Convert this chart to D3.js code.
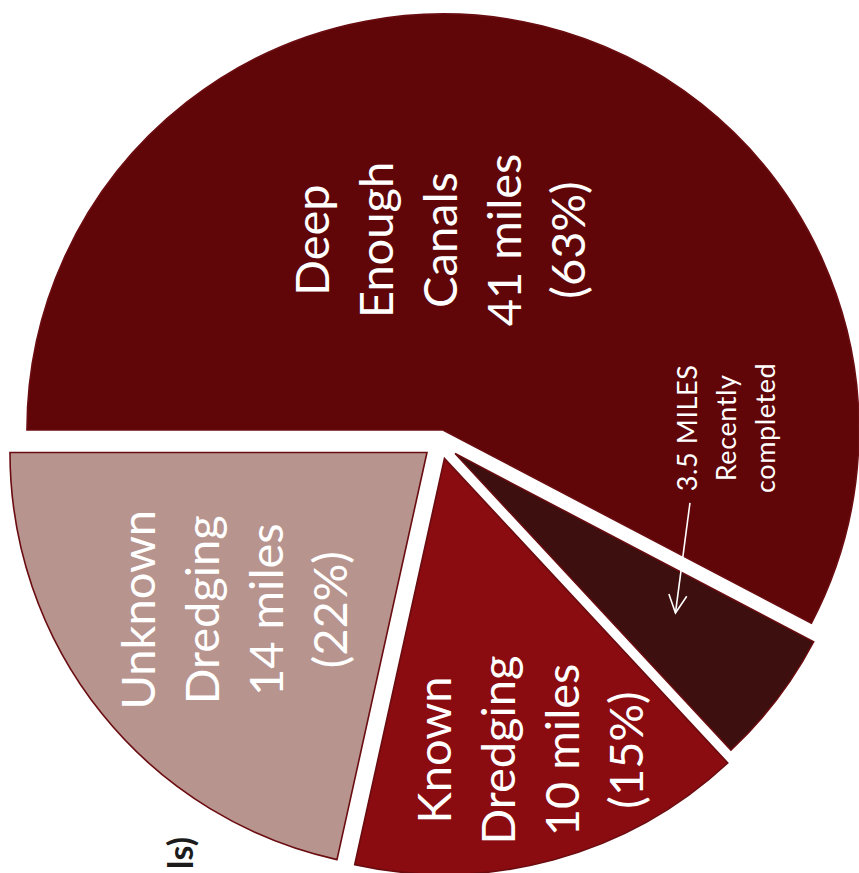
<!DOCTYPE html>
<html>
<head>
<meta charset="utf-8">
<script src="https://cdn.jsdelivr.net/npm/d3@7"></script>
<style>
    body { margin: 0; background: #fff; }
    svg { display: block; }
    .slice-label { font-family: Lato, "Open Sans", sans-serif; fill: #fff; }
    .title-part { font-family: Lato, "Liberation Sans", sans-serif; font-weight: bold; fill: #1b1b1b; }
</style>
</head>
<body>
<div id="chart"></div>
<script>
var WIDTH = 859, HEIGHT = 873;
var CENTER = {x: 440, y: 442};

// data (miles of canals)
var categories = ['Deep Enough Canals', 'Recently completed', 'Known Dredging', 'Unknown Dredging'];
var miles = [37.5, 3.5, 10, 14];
var label_lines = [
    ['Deep', 'Enough', 'Canals', '41 miles', '(63%)'],
    [],
    ['Known', 'Dredging', '10 miles', '(15%)'],
    ['Unknown', 'Dredging', '14 miles', '(22%)']
];
var note_lines = ['3.5 MILES', 'Recently', 'completed'];
var title_fragment = 'ls)';

// styles / layout
var COLORS = ['#600609', '#3d0f0f', '#8a0b10', '#b8948f'];
var EXPLODE = [12.4, 19, 17, 16.7];
var SLICE_RADIUS = [416, 405, 416, 417];
var LABEL_POS = [{da: -14.8, r: 190}, null, {da: -1.2, r: 304}, {da: -0.4, r: 249}];
var NOTE_POS = {da: -42.8, r: 272};
var ARROW_FROM = {da: -25.5, r: 240}, ARROW_TO = {da: -1.5, r: 272};

var svg = d3.select('#chart').append('svg')
    .attr('width', WIDTH)
    .attr('height', HEIGHT);

svg.append('defs').append('marker')
    .attr('id', 'head')
    .attr('markerUnits', 'userSpaceOnUse')
    .attr('viewBox', '-20 -11 22 22')
    .attr('refX', 0).attr('refY', 0)
    .attr('markerWidth', 22).attr('markerHeight', 22)
    .attr('orient', 'auto')
  .append('path')
    .attr('d', 'M-18,-9L0,0L-18,9')
    .attr('fill', 'none')
    .attr('stroke', '#fff')
    .attr('stroke-width', 1.6);

var pie = d3.pie()
    .sort(null)
    .startAngle(-Math.PI / 2)
    .endAngle(3 * Math.PI / 2);

var arcs = pie(miles);
arcs.forEach(function(d, i) { d.index = i; });

var arc = d3.arc()
    .innerRadius(0)
    .outerRadius(function(d) { return SLICE_RADIUS[d.index]; });

function mid_angle(d) { return (d.startAngle + d.endAngle) / 2; }

function polar(a, r) {
    return [r * Math.sin(a), -r * Math.cos(a)];
}

// apex of an exploded slice
function apex(d) {
    var o = polar(mid_angle(d), EXPLODE[d.index]);
    return [CENTER.x + o[0], CENTER.y + o[1]];
}

function place(d, pos) {
    var c = apex(d);
    var p = polar(mid_angle(d) + pos.da * Math.PI / 180, pos.r);
    return [c[0] + p[0], c[1] + p[1]];
}

var draw_area = svg.append('g').attr('id', 'pie');

draw_area.selectAll('.slice')
    .data(arcs)
    .enter()
  .append('path')
    .attr('class', 'slice')
    .attr('transform', function(d) {
        var c = apex(d);
        return 'translate(' + c[0] + ',' + c[1] + ')';
    })
    .attr('d', arc)
    .attr('fill', function(d) { return COLORS[d.index]; })
    .attr('stroke', '#6a0c10')
    .attr('stroke-width', 1.6)
    .attr('stroke-linejoin', 'miter');

function draw_lines(x, y, lines, size, lh, cls) {
    var t = svg.append('text')
        .attr('class', cls)
        .attr('transform', 'translate(' + x + ',' + y + ') rotate(-90)')
        .attr('text-anchor', 'middle')
        .style('font-size', size + 'px');
    lines.forEach(function(s, i) {
        t.append('tspan')
            .attr('x', 0)
            .attr('y', (i - (lines.length - 1) / 2) * lh + size * 0.36)
            .text(s);
    });
    return t;
}

arcs.forEach(function(d) {
    var pos = LABEL_POS[d.index];
    if (!pos) return;
    var p = place(d, pos);
    draw_lines(p[0], p[1], label_lines[d.index], 47, 64, 'slice-label');
});

// note about the recently completed miles
var dark = arcs[1];
var np = place(dark, NOTE_POS);
draw_lines(np[0], np[1], note_lines, 27, 39, 'slice-label')
    .style('letter-spacing', '0.6px');

var a0 = place(dark, ARROW_FROM), a1 = place(dark, ARROW_TO);
svg.append('line')
    .attr('x1', a0[0]).attr('y1', a0[1])
    .attr('x2', a1[0]).attr('y2', a1[1])
    .attr('stroke', '#fff')
    .attr('stroke-width', 1.6)
    .attr('marker-end', 'url(#head)');

// cut-off title
svg.append('text')
    .attr('class', 'title-part')
    .attr('transform', 'translate(193,837) rotate(-90)')
    .attr('text-anchor', 'end')
    .style('font-size', '34px')
    .text(title_fragment);
</script>
</body>
</html>
